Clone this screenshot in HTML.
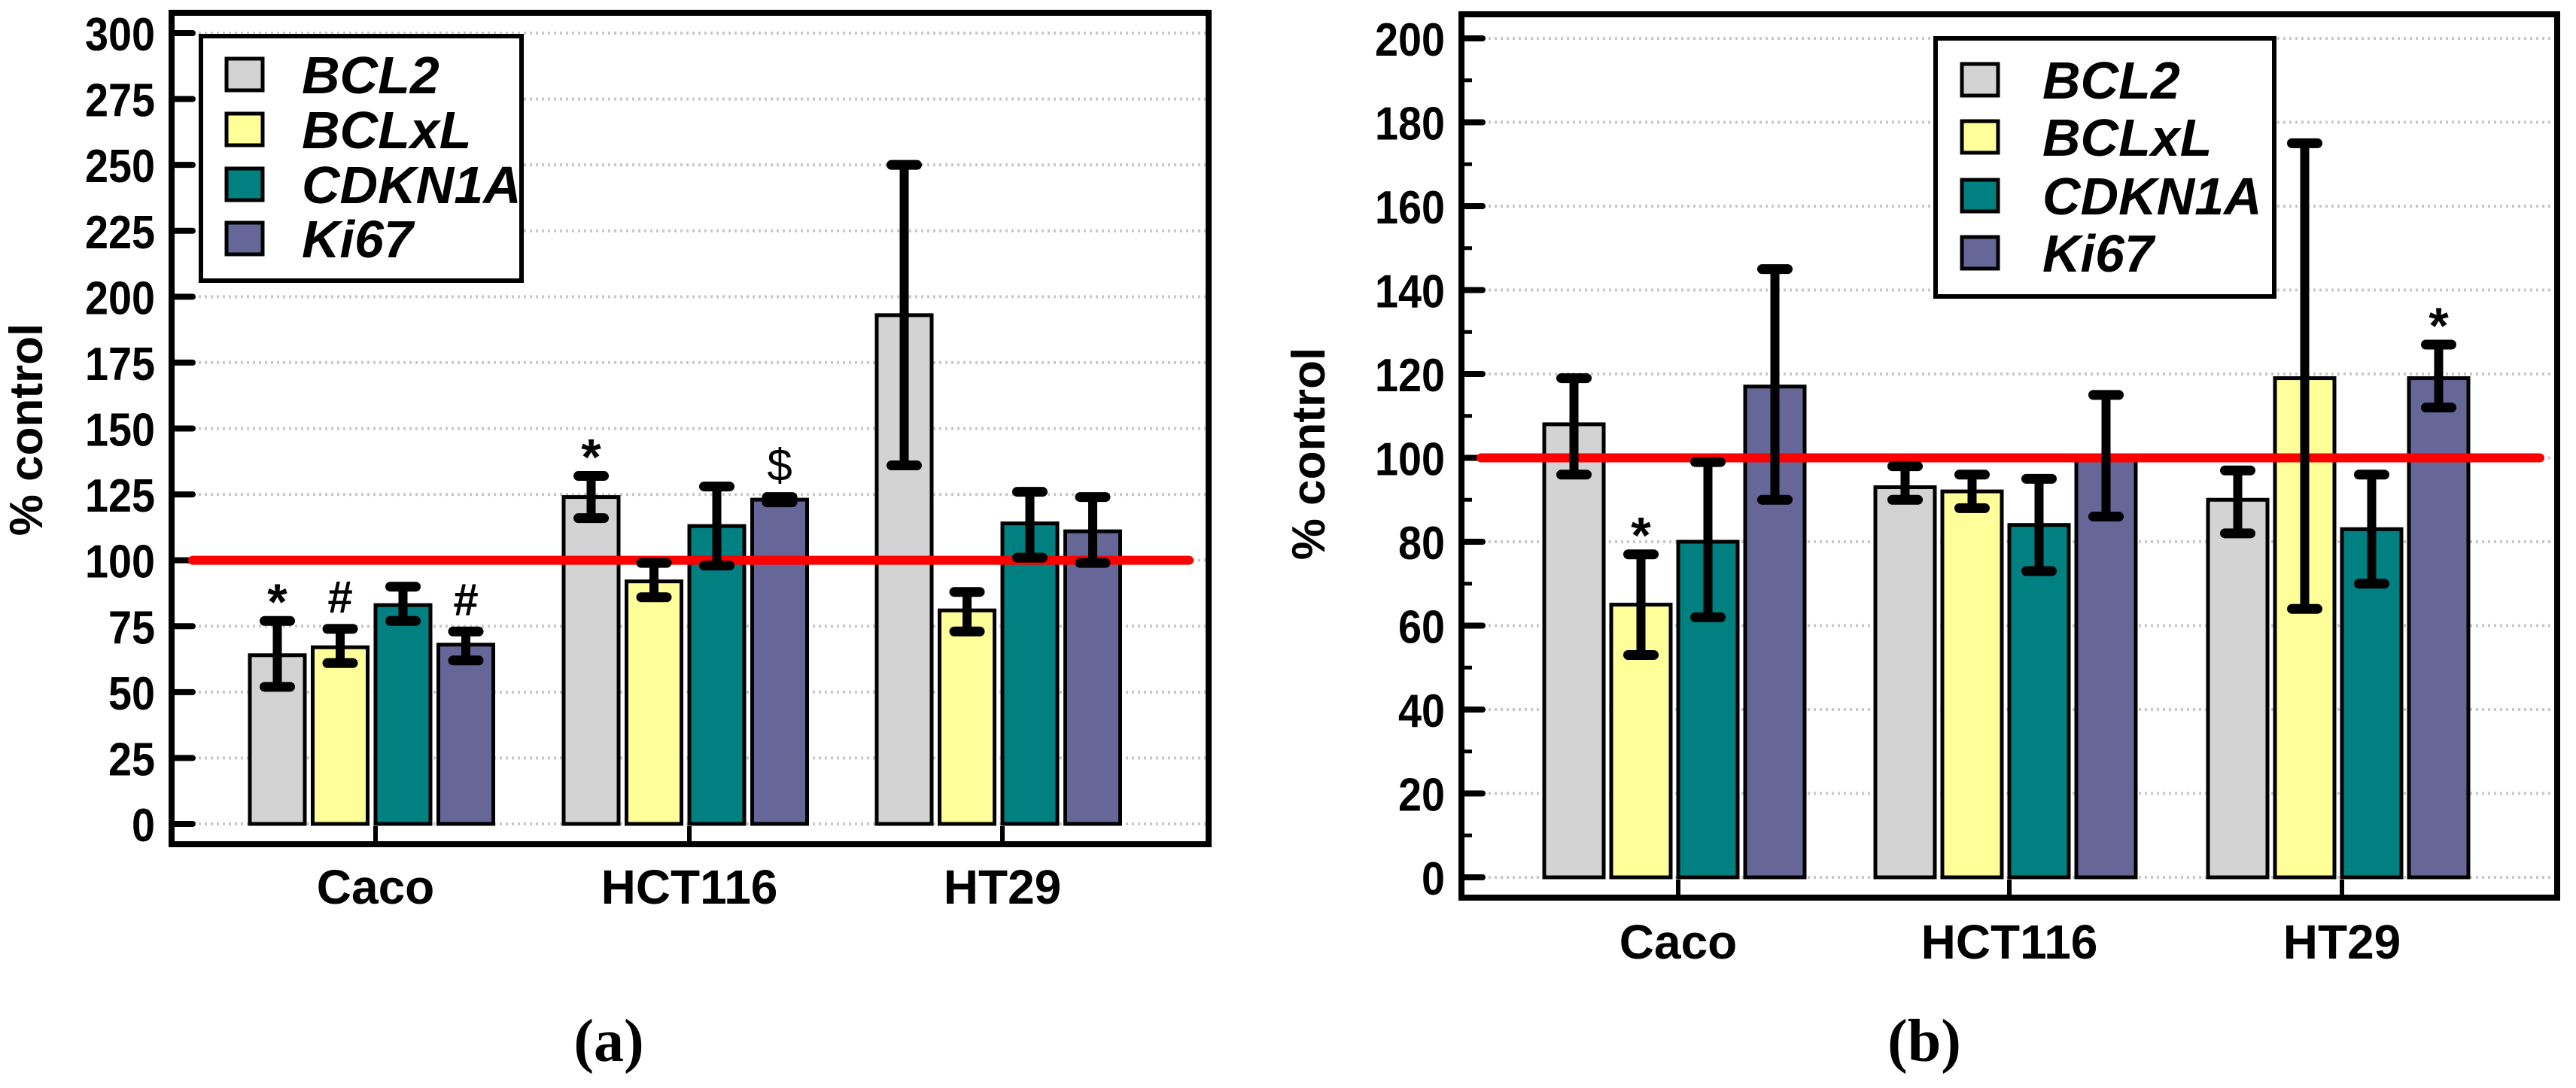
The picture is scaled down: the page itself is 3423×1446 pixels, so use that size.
<!DOCTYPE html>
<html><head><meta charset="utf-8"><style>
html,body{margin:0;padding:0;background:#fff;}
svg{display:block;}
text{font-family:"Liberation Sans",Arial,sans-serif;}
</style></head><body>
<svg id="fig" width="3423" height="1446" viewBox="0 0 3423 1446" xmlns="http://www.w3.org/2000/svg"></svg>
<script>
// ---- data ----
const categories = ["Caco", "HCT116", "HT29"];
const seriesNames = ["BCL2", "BCLxL", "CDKN1A", "Ki67"];
const seriesColors = ["#d3d3d3", "#ffff99", "#008080", "#666699"];
// panel a values [series][category]
const aBCL2 = [64, 124, 193];
const aBCLxL = [67, 92, 81];
const aCDKN1A = [83, 113, 114];
const aKi67 = [68, 123, 111];
const aErrLo = [[52,116,136],[61,86,73],[77,98,101],[62,122,99]];
const aErrHi = [[77,132,250],[74,99,88],[90,128,126],[73,124,124]];
const aMarks = [["*","*",""],["#","",""],["","",""],["#","$",""]];
const aTicks = [0,25,50,75,100,125,150,175,200,225,250,275,300];
// panel b
const bBCL2 = [108, 93, 90];
const bBCLxL = [65, 92, 119];
const bCDKN1A = [80, 84, 83];
const bKi67 = [117, 100, 119];
const bErrLo = [[96,90,82],[53,88,64],[62,73,70],[90,86,112]];
const bErrHi = [[119,98,97],[77,96,175],[99,95,96],[145,115,127]];
const bMarks = [["","",""],["*","",""],["","",""],["","","*"]];
const bTicks = [0,20,40,60,80,100,120,140,160,180,200];
const refValue = 100;

const NS = "http://www.w3.org/2000/svg";
const svg = document.getElementById("fig");
function mk(tag, attrs, parent, txt){
  const e = document.createElementNS(NS, tag);
  for (const k in attrs) e.setAttribute(k, attrs[k]);
  if (txt !== undefined) e.textContent = txt;
  (parent || svg).appendChild(e);
  return e;
}

function panel(cfg){
  const g = mk("g", {});
  
  
  const {L,R,T,B,y0,yTop,vmax,catX,step,bw} = cfg;
  const y = v => y0 - (v/vmax)*(y0-yTop);
  cfg.ticks.forEach(t=>{
    const gl = mk("line",{x1:L+28,x2:R-4,y1:y(t),y2:y(t),stroke:"#c8c8c8","stroke-width":4,"stroke-dasharray":"3 5"},g);
    
    
    const tk = mk("line",{x1:L,x2:L+28,y1:y(t),y2:y(t),stroke:"#000","stroke-width":8,"stroke-linecap":"round"},g);
    
    
    const lb = mk("text",{x:L-22,y:y(t)+23,"text-anchor":"end","font-size":62,"font-weight":"bold",textLength:(String(t).length*31),lengthAdjust:"spacingAndGlyphs"},g,String(t));
    
    
  });
  if (cfg.minor){
    for (let i=0;i<cfg.ticks.length-1;i++){
      const mv=(cfg.ticks[i]+cfg.ticks[i+1])/2;
      const mt = mk("line",{x1:L,x2:L+14,y1:y(mv),y2:y(mv),stroke:"#000","stroke-width":5},g);
      
      
    }
  }
  const vals = cfg.vals;
  categories.forEach((c,ci)=>{
    seriesNames.forEach((s,si)=>{
      const x = catX[ci] + (si-2)*step;
      const v = vals[si][ci];
      const r = mk("rect",{x:x,y:y(v),width:bw,height:y(0)-y(v),fill:seriesColors[si],stroke:"#000","stroke-width":5},g);
      
      
    });
  });
  const rl = mk("line",{x1:cfg.refX1,x2:cfg.refX2,y1:y(refValue),y2:y(refValue),stroke:"#ff0000","stroke-width":12,"stroke-linecap":"round"},g);
  
  
  categories.forEach((c,ci)=>{
    seriesNames.forEach((s,si)=>{
      const cx = catX[ci] + (si-2)*step + bw/2;
      const lo = cfg.lo[si][ci], hi = cfg.hi[si][ci];
      const eg = mk("g",{},g);
      
      
      mk("line",{x1:cx,x2:cx,y1:y(hi),y2:y(lo),stroke:"#000","stroke-width":12},eg);
      mk("line",{x1:cx-17,x2:cx+17,y1:y(hi),y2:y(hi),stroke:"#000","stroke-width":13,"stroke-linecap":"round"},eg);
      mk("line",{x1:cx-17,x2:cx+17,y1:y(lo),y2:y(lo),stroke:"#000","stroke-width":13,"stroke-linecap":"round"},eg);
      const m = cfg.marks[si][ci];
      if (m){
        const isStar = m==="*";
        const t = mk("text",{x:cx,y:y(hi)-(isStar?2:22),"text-anchor":"middle","font-size":isStar?68:60,"font-weight":m==="$"?"normal":"bold"},g,m);
        
        
      }
    });
  });
  const fr = mk("rect",{x:L,y:T,width:R-L,height:B-T,fill:"none",stroke:"#000","stroke-width":8},g);
  
  
  categories.forEach((c,ci)=>{
    const ct = mk("line",{x1:catX[ci],x2:catX[ci],y1:B,y2:y(0)+3,stroke:"#000","stroke-width":6},g);
    
    
    const lt = mk("text",{x:catX[ci],y:cfg.xlabY,"text-anchor":"middle","font-size":64,"font-weight":"bold"},g,c);
    
    
  });
  const yt = mk("text",{x:0,y:0,"text-anchor":"middle","font-size":62,"font-weight":"bold",transform:`translate(${cfg.ytX},${cfg.ytY}) rotate(-90)`},g,"% control");
  
  
  const lg = mk("g",{},g);
  
  
  const Lg = cfg.leg;
  mk("rect",{x:Lg.x,y:Lg.y,width:Lg.w,height:Lg.h,fill:"#fff",stroke:"#000","stroke-width":6},lg);
  seriesNames.forEach((s,si)=>{
    const cy = Lg.rows[si];
    const e = mk("g",{},lg);
    
    
    mk("rect",{x:Lg.sx,y:cy-21,width:48,height:42,fill:seriesColors[si],stroke:"#000","stroke-width":5},e);
    mk("text",{x:Lg.tx,y:cy+25,"font-size":70,"font-weight":"bold","font-style":"italic"},e,s);
  });
  const pl = mk("text",{x:cfg.letterX,y:1410,"text-anchor":"middle","font-size":80,"font-weight":"bold",style:"font-family:'Liberation Serif',serif"},g,cfg.letter);
  
  
}

panel({name:"panel-a",L:228,R:1606,T:17,B:1122,y0:1095,yTop:44,vmax:300,
  catX:[499,916,1332],step:83.5,bw:73,ticks:aTicks,minor:false,
  vals:[aBCL2,aBCLxL,aCDKN1A,aKi67],lo:aErrLo,hi:aErrHi,marks:aMarks,
  refX1:256,refX2:1580,xlabY:1201,ytX:56,ytY:571,
  leg:{x:267,y:48,w:426,h:325,sx:301,tx:401,rows:[99,172,245,317]},
  letter:"(a)",letterX:809});
panel({name:"panel-b",L:1942,R:3398,T:19,B:1193,y0:1166,yTop:51,vmax:200,
  catX:[2230,2670,3112],step:89,bw:79,ticks:bTicks,minor:true,
  vals:[bBCL2,bBCLxL,bCDKN1A,bKi67],lo:bErrLo,hi:bErrHi,marks:bMarks,
  refX1:1968,refX2:3375,xlabY:1274,ytX:1760,ytY:603,
  leg:{x:2572,y:51,w:450,h:343,sx:2607,tx:2714,rows:[106,182,260,336]},
  letter:"(b)",letterX:2557});
</script>
</body></html>
